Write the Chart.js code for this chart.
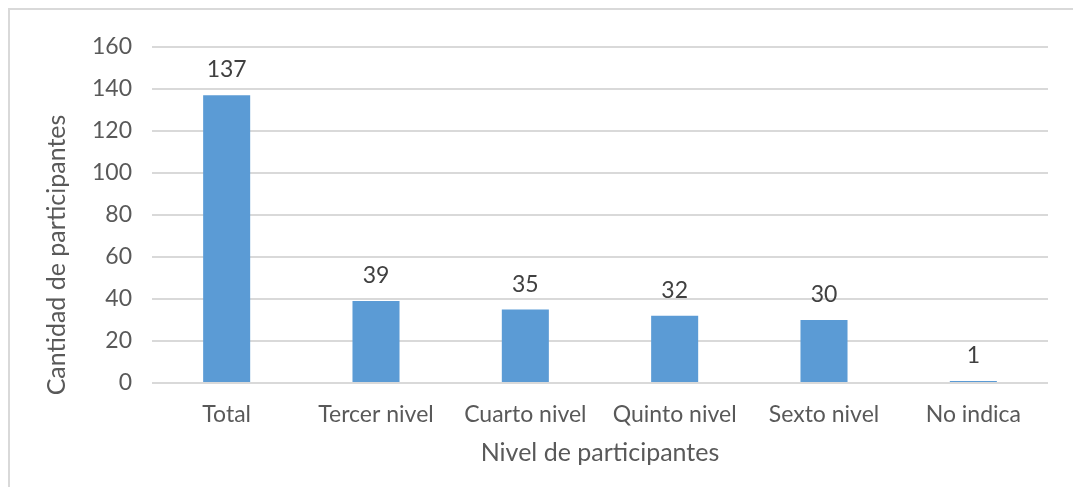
<!DOCTYPE html>
<html>
<head>
<meta charset="utf-8">
<script src="https://cdn.jsdelivr.net/npm/chart.js@4.4.1/dist/chart.umd.min.js"></script>
<style>
  html, body { margin: 0; padding: 0; background: #fff; overflow: hidden; }
  #frame {
    position: absolute; left: 8px; top: 8px; width: 1070px; height: 485px;
    border-top: 2px solid #d9d9d9; border-left: 2px solid #d9d9d9;
  }
  #wrap { position: absolute; left: 0; top: 0; width: 1063px; height: 477px; }
</style>
</head>
<body>
<div id="frame"><div id="wrap"><canvas id="chart"></canvas></div></div>
<script>
// Datos del gráfico
const niveles = ['Total', 'Tercer nivel', 'Cuarto nivel', 'Quinto nivel', 'Sexto nivel', 'No indica'];
const participantes = [137, 39, 35, 32, 30, 1];
const yMin = 0;
const yMax = 160;
const yStep = 20;
const yTitulo = 'Cantidad de participantes';

const textColor = '#595959';
const fontFamily = 'Lato, "Liberation Sans", sans-serif';

// etiquetas de valor encima de cada barra + titulo del eje Y (centrado en todo el alto)
const valueLabels = {
  id: 'valueLabels',
  afterDatasetsDraw(chart) {
    const ctx = chart.ctx;
    const meta = chart.getDatasetMeta(0);
    ctx.save();
    ctx.font = '23px ' + fontFamily;
    ctx.fillStyle = '#404040';
    ctx.textAlign = 'center';
    ctx.textBaseline = 'alphabetic';
    meta.data.forEach((bar, i) => {
      ctx.fillText(String(participantes[i]), bar.x, bar.y - 18);
    });
    ctx.restore();

    ctx.save();
    ctx.font = '25px ' + fontFamily;
    ctx.fillStyle = textColor;
    ctx.textAlign = 'center';
    ctx.textBaseline = 'middle';
    ctx.translate(47, 245);
    ctx.rotate(-Math.PI / 2);
    ctx.fillText(yTitulo, 0, 0);
    ctx.restore();
  }
};

new Chart(document.getElementById('chart'), {
  type: 'bar',
  data: {
    labels: niveles,
    datasets: [{
      data: participantes,
      backgroundColor: '#5b9bd5',
      borderWidth: 0,
      categoryPercentage: 1,
      barPercentage: 0.315
    }]
  },
  options: {
    responsive: true,
    maintainAspectRatio: false,
    animation: false,
    layout: { padding: { top: 37, right: 25, bottom: 14, left: 0 } },
    plugins: {
      legend: { display: false },
      tooltip: { enabled: false }
    },
    scales: {
      x: {
        grid: { display: false },
        border: { display: false },
        ticks: { color: textColor, font: { family: fontFamily, size: 23 }, padding: 10 },
        title: {
          display: true,
          text: 'Nivel de participantes',
          color: textColor,
          font: { family: fontFamily, size: 25 },
          padding: { top: 0, bottom: 5 }
        },
        afterFit(scale) { scale.height = 90; }
      },
      y: {
        min: yMin,
        max: yMax,
        ticks: { stepSize: yStep, color: textColor, font: { family: fontFamily, size: 23 }, padding: 20 },
        grid: { color: '#d9d9d9', lineWidth: 2, drawTicks: false },
        border: { display: false },
        title: { display: false },
        afterFit(scale) { scale.width = 142; }
      }
    }
  },
  plugins: [valueLabels]
});
</script>
</body>
</html>
